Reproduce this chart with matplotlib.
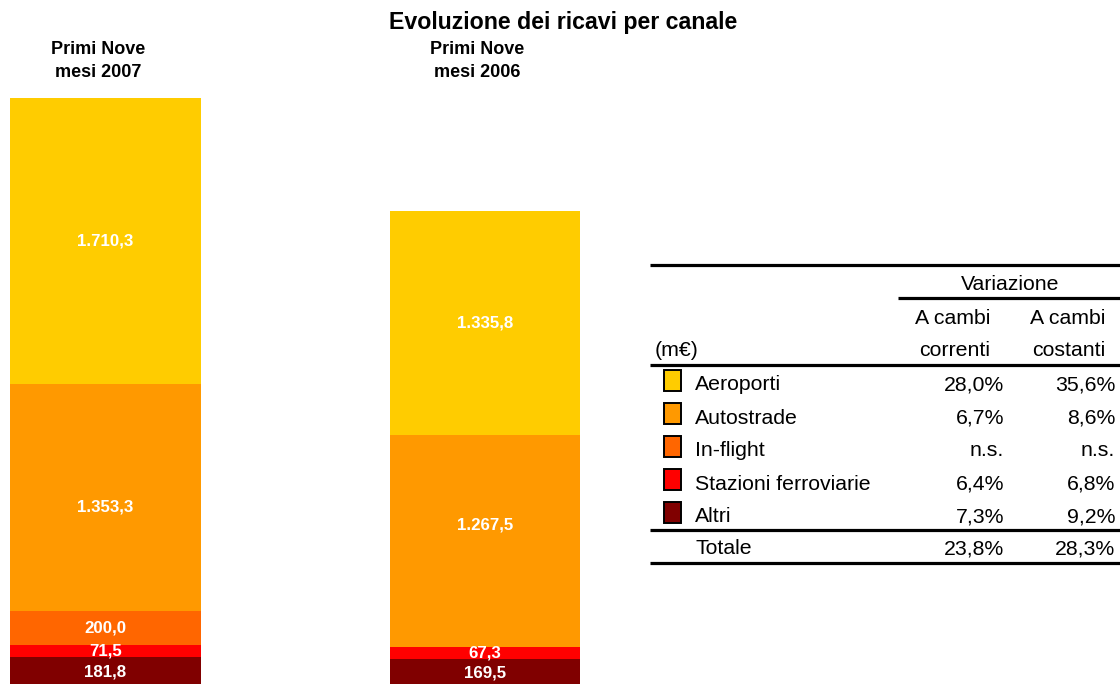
import matplotlib
matplotlib.use("Agg")
import matplotlib.pyplot as plt
from matplotlib.patches import Rectangle

plt.rcParams['font.family'] = ['Liberation Sans', 'DejaVu Sans']

# Revenues by channel (m€), listed from top of the stack to the bottom
channels = ['Aeroporti', 'Autostrade', 'In-flight', 'Stazioni ferroviarie', 'Altri']
colors = ['#FFCC00', '#FF9900', '#FF6600', '#FF0000', '#800000']
periods = ['Primi Nove\nmesi 2007', 'Primi Nove\nmesi 2006']
rev_2007 = [1710.3, 1353.3, 200.0, 71.5, 181.8]
rev_2006 = [1335.8, 1267.5, 0.0, 67.3, 169.5]

# Change table
var_correnti = ['28,0%', '6,7%', 'n.s.', '6,4%', '7,3%']
var_costanti = ['35,6%', '8,6%', 'n.s.', '6,8%', '9,2%']
tot_correnti = '23,8%'
tot_costanti = '28,3%'

# vertical nudge (points, + = down) of the value labels in each stack
label_nudge = [[0, 7, 0, 0, 0], [0, -12, 0, 0, 0]]


def it_fmt(v):
    s = f"{v:,.1f}"
    return s.replace(',', 'X').replace('.', ',').replace('X', '.')


W, H = 1120, 684
fig = plt.figure(figsize=(W / 100, H / 100), dpi=100)

# Bar axes: left part of the figure; the baseline sits just below the bottom edge
ax = fig.add_axes([0, -3 / H, 600 / W, 687 / H])
ax.set_xlim(-0.278, 1.303)
ax.set_ylim(0, 4101.5)
ax.axis('off')

series = [rev_2007, rev_2006]
for xi, vals in enumerate(series):
    bottom = 0.0
    items = list(zip(channels, colors, vals, label_nudge[xi]))
    for name, col, v, dy in reversed(items):
        if v > 0:
            ax.bar(xi, v, bottom=bottom, width=0.503, color=col, edgecolor='none')
            ax.annotate(it_fmt(v), (xi, bottom + v / 2), xytext=(0, -dy),
                        textcoords='offset points', ha='center', va='center',
                        color='white', fontsize=12.2, fontweight='bold')
        bottom += v

# Overlay in pixel coordinates for headings and table
ov = fig.add_axes([0, 0, 1, 1])
ov.set_xlim(0, W)
ov.set_ylim(H, 0)
ov.axis('off')
ov.patch.set_alpha(0)

ov.text(563, 23, 'Evoluzione dei ricavi per canale', ha='center', va='center',
        fontsize=16.7, fontweight='bold')

head_x = [98, 477]
for hx, label in zip(head_x, periods):
    ov.text(hx, 61, label, ha='center', va='center', fontsize=13,
            fontweight='bold', linespacing=1.42)

lw = 2.3
for x0, yl in [(650, 265), (898, 298), (650, 365), (650, 530), (650, 563)]:
    ov.plot([x0, W], [yl, yl], color='black', lw=lw, solid_capstyle='butt')

fs = 15.3
ov.text(1010, 284, 'Variazione', ha='center', va='center', fontsize=fs)
ov.text(990, 318, 'A cambi', ha='right', va='center', fontsize=fs)
ov.text(990, 351, 'correnti', ha='right', va='center', fontsize=fs)
ov.text(1105, 318, 'A cambi', ha='right', va='center', fontsize=fs)
ov.text(1105, 351, 'costanti', ha='right', va='center', fontsize=fs)
ov.text(655, 351, '(m€)', ha='left', va='center', fontsize=fs)

row_y = [384, 417, 450, 483, 516]
for y, name, col, vc, vk in zip(row_y, channels, colors, var_correnti, var_costanti):
    ov.add_patch(Rectangle((664, y - 14), 17, 21, facecolor=col,
                           edgecolor='black', lw=1.4))
    ov.text(695, y + 1, name, ha='left', va='center', fontsize=fs)
    ov.text(1004, y + 1, vc, ha='right', va='center', fontsize=fs)
    ov.text(1115, y + 1, vk, ha='right', va='center', fontsize=fs)

ov.text(695, 549, 'Totale', ha='left', va='center', fontsize=fs)
ov.text(1004, 549, tot_correnti, ha='right', va='center', fontsize=fs)
ov.text(1115, 549, tot_costanti, ha='right', va='center', fontsize=fs)

fig.savefig('out.png', dpi=100)
